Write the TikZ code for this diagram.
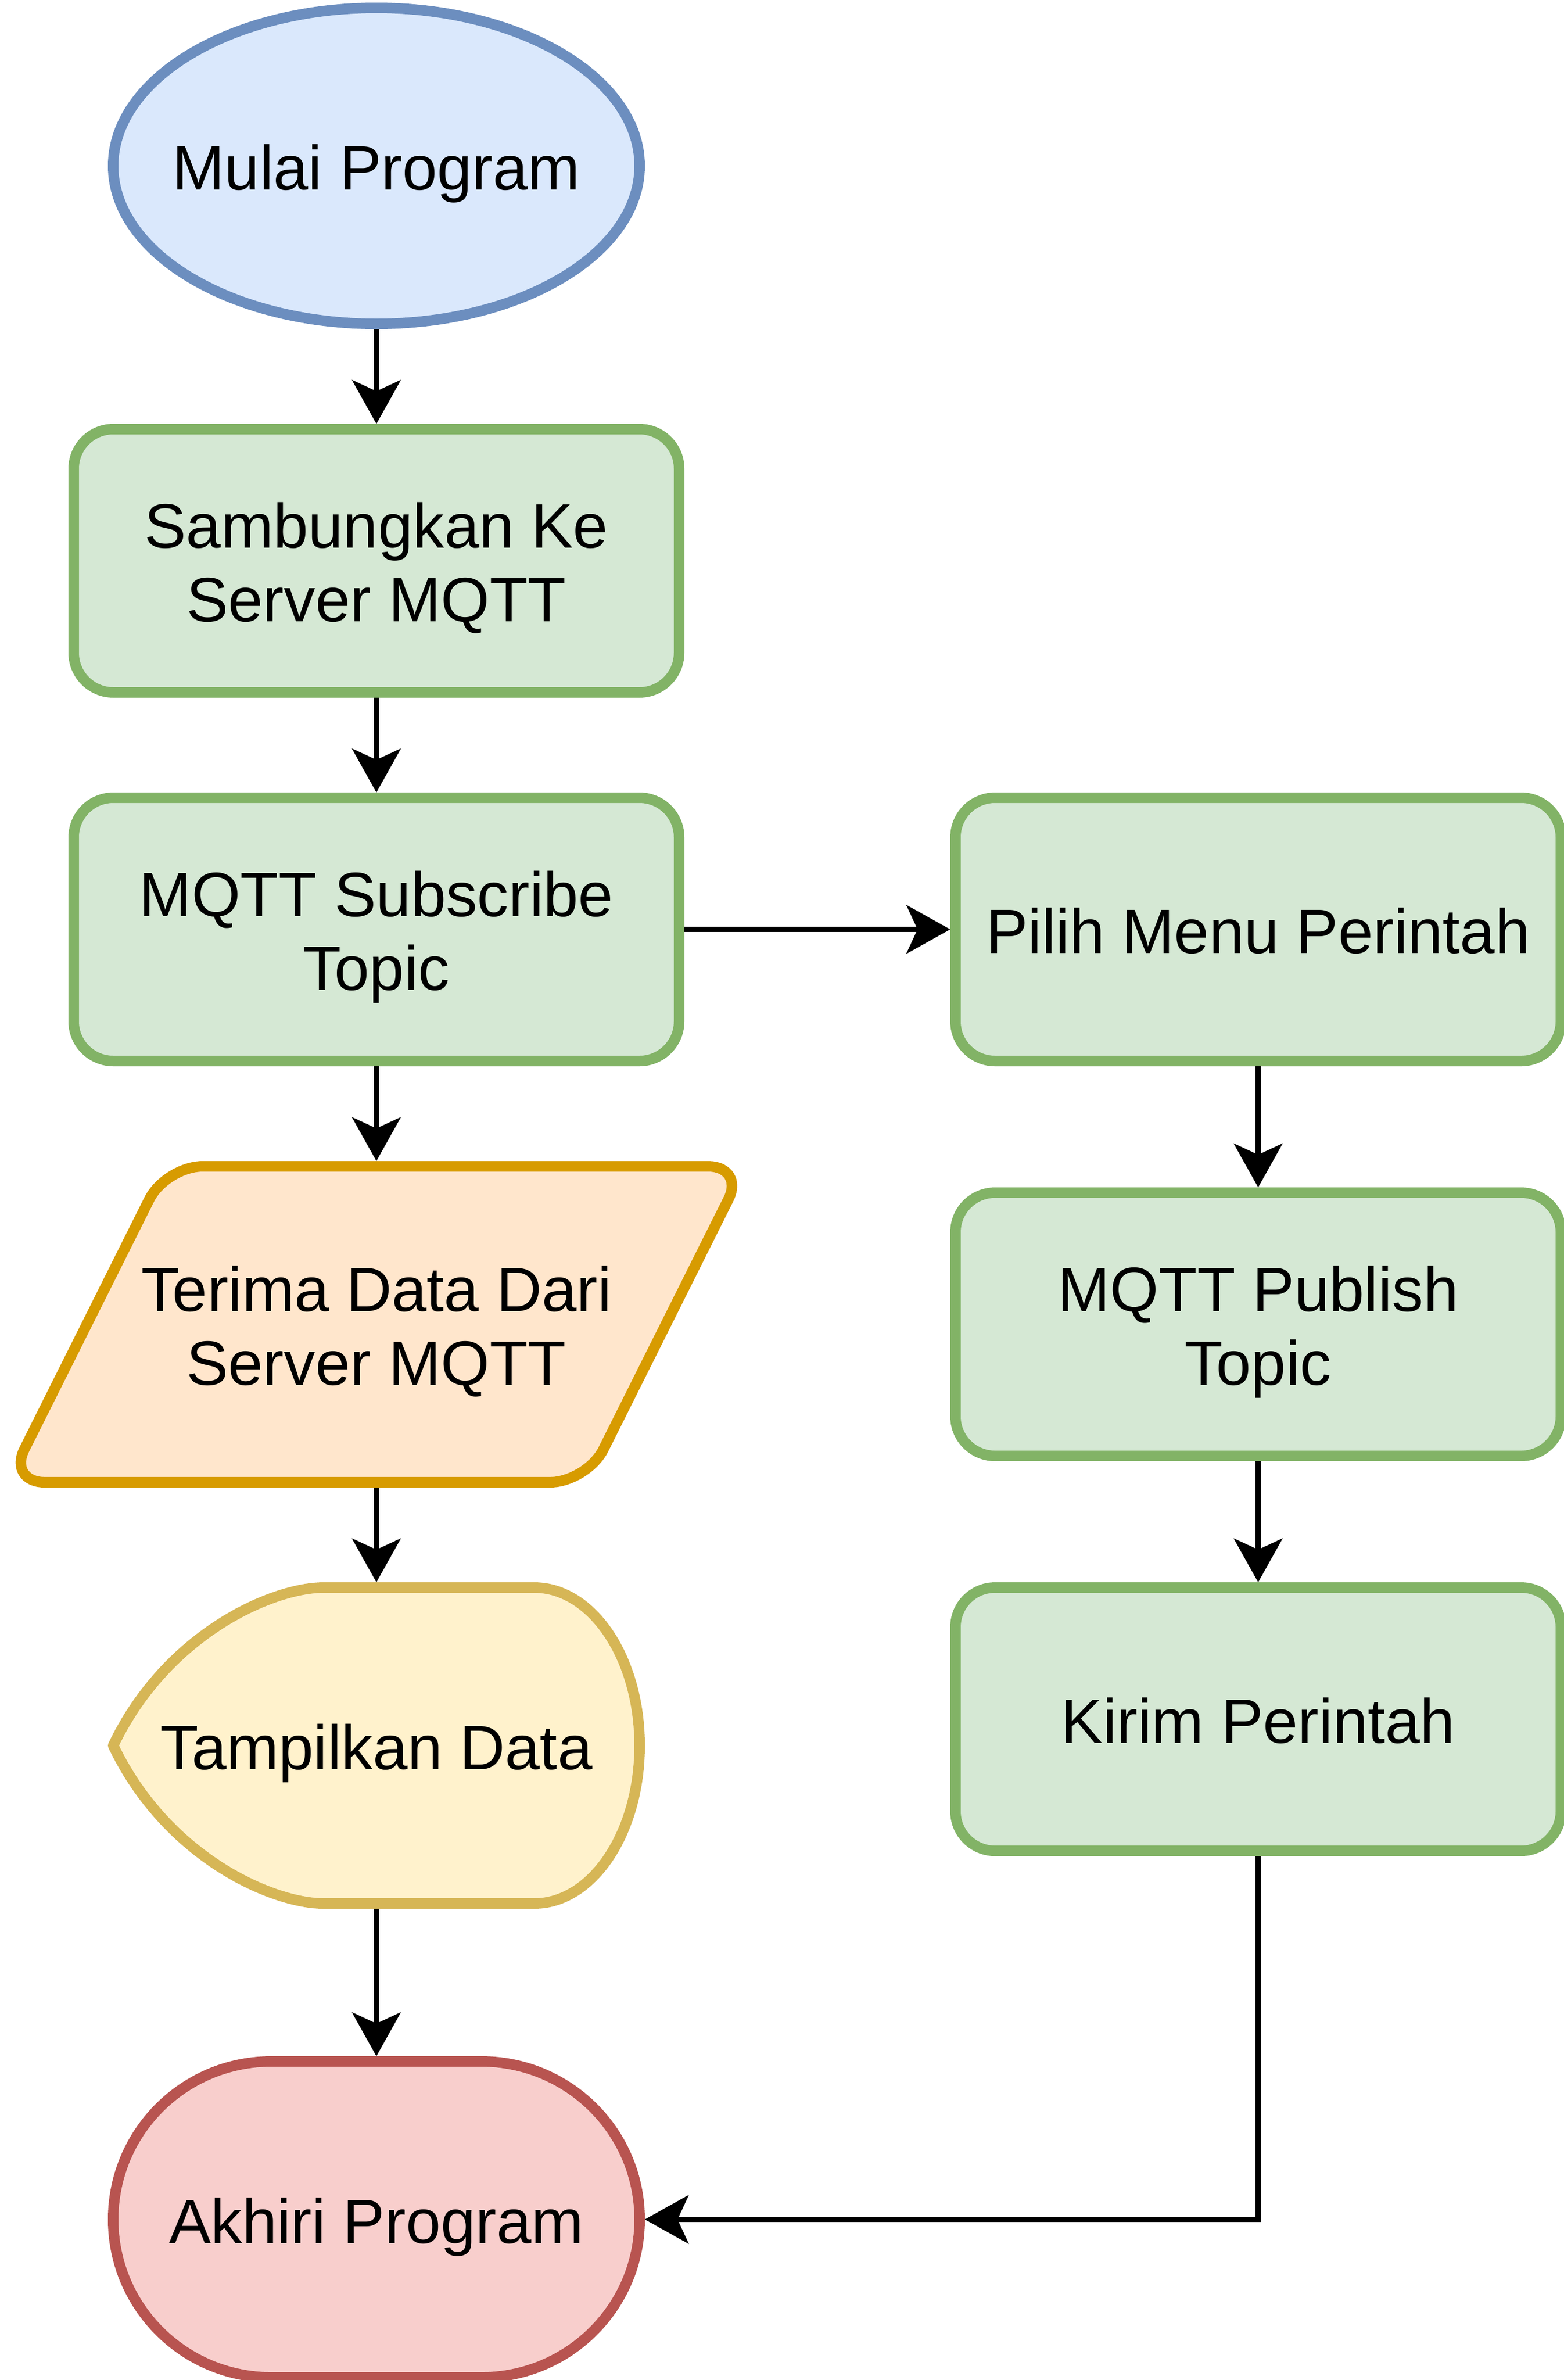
\documentclass[tikz,border=0pt]{standalone}
\usepackage{fontspec}
\setmainfont{Liberation Sans}
\usetikzlibrary{%
  arrows.meta,
  backgrounds,
  calc
}
\definecolor{startfill}{HTML}{DAE8FC}
\definecolor{startline}{HTML}{6C8EBF}
\definecolor{procfill}{HTML}{D5E8D4}
\definecolor{procline}{HTML}{82B366}
\definecolor{iofill}{HTML}{FFE6CC}
\definecolor{ioline}{HTML}{D79B00}
\definecolor{showfill}{HTML}{FFF2CC}
\definecolor{showline}{HTML}{D6B656}
\definecolor{endfill}{HTML}{F8CECC}
\definecolor{endline}{HTML}{B85450}
\tikzset{>={Stealth[length=8.3mm, width=9.2mm, inset=2.1mm]}}
\tikzset{
  every node/.style={font=\fontsize{33.9pt}{39.8pt}\selectfont,
    inner sep=0pt, outer sep=0pt, align=center},
  shapebox/.style={rectangle, minimum width=10cm, minimum height=6cm},
  procbox/.style={rectangle, draw=procline, fill=procfill, line width=2mm,
    rounded corners=7.5mm, minimum width=11.5cm, minimum height=5cm},
  oneline/.style={text height=11mm, text depth=2mm},
  twoline/.style={text height=25mm, text depth=2mm},
  link/.style={->, line width=1mm, shorten <=1mm, shorten >=1mm},
  outline/.style={line width=2mm, line join=round}
}

\begin{document}
\begin{tikzpicture}
  \useasboundingbox (0,0) rectangle (29.7,-45.2);

  % left column
  \node[shapebox, oneline] (start) at (7.15,-3.15) {Mulai Program};
  \node[procbox, twoline] (connect) at (7.15,-10.65) {Sambungkan Ke\\Server MQTT};
  \node[procbox, twoline] (subscribe) at (7.15,-17.65) {MQTT Subscribe\\Topic};
  \node[shapebox, twoline, minimum width=11cm] (receive) at (7.15,-25.15) {Terima Data Dari\\Server MQTT};
  \node[shapebox, oneline] (show) at (7.15,-33.15) {Tampilkan Data};
  \node[shapebox, oneline] (finish) at (7.15,-42.15) {Akhiri Program};

  % right column
  \node[procbox, oneline] (menu) at (23.9,-17.65) {Pilih Menu Perintah};
  \node[procbox, twoline] (publish) at (23.9,-25.15) {MQTT Publish\\Topic};
  \node[procbox, oneline] (send) at (23.9,-32.65) {Kirim Perintah};

  % outlines behind the text
  \begin{scope}[on background layer]
    \draw[outline, draw=startline, fill=startfill] (start.center) ellipse [x radius=5, y radius=3];
    \draw[outline, draw=ioline, fill=iofill, rounded corners=7mm]
      ($(receive.south west)+(-1.5,0)$) -- ($(receive.north west)+(1.5,0)$)
      -- ($(receive.north east)+(1.5,0)$) -- ($(receive.south east)+(-1.5,0)$) -- cycle;
    \draw[outline, draw=showline, fill=showfill] (show.west)
      .. controls ($(show.north west)+(1,-0.9)$) and ($(show.north west)+(3,0)$) .. ($(show.north west)+(4,0)$)
      -- ($(show.north west)+(8,0)$) arc[start angle=90, end angle=-90, x radius=2, y radius=3]
      -- ($(show.south west)+(4,0)$)
      .. controls ($(show.south west)+(3,0)$) and ($(show.south west)+(1,0.9)$) .. (show.west) -- cycle;
    \draw[outline, draw=endline, fill=endfill, rounded corners=3cm] (finish.south west) rectangle (finish.north east);
  \end{scope}

  % connectors
  \draw[link] (start) -- (connect);
  \draw[link] (connect) -- (subscribe);
  \draw[link] (subscribe) -- (receive);
  \draw[link] (receive) -- (show);
  \draw[link] (show) -- (finish);
  \draw[link] (subscribe) -- (menu);
  \draw[link] (menu) -- (publish);
  \draw[link] (publish) -- (send);
  \draw[link] (send) |- (finish);

\end{tikzpicture}
\end{document}
